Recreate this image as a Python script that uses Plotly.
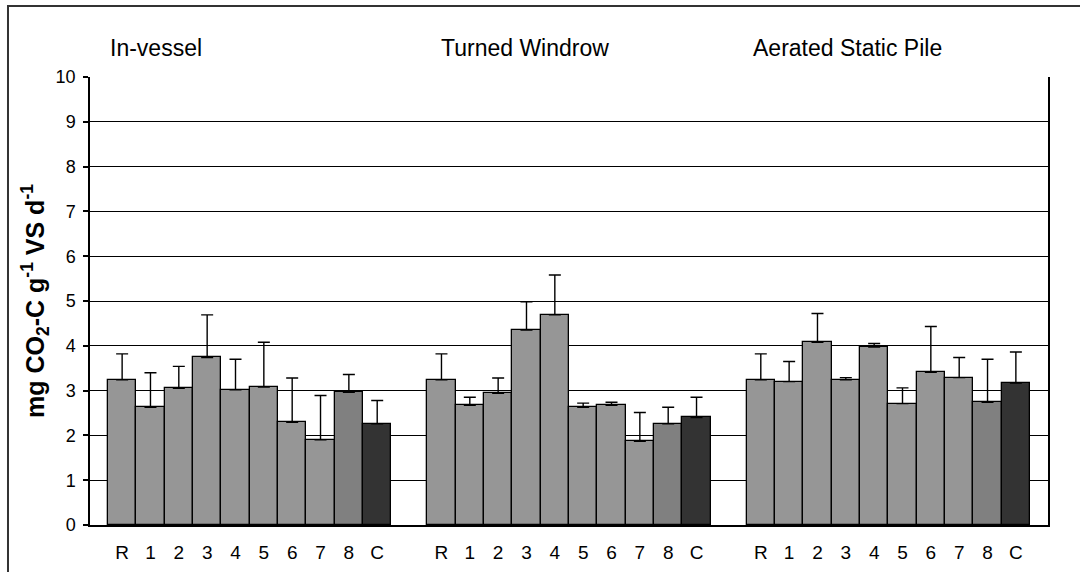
import plotly.graph_objects as go

# Composting systems and treatments
systems = ["In-vessel", "Turned Windrow", "Aerated Static Pile"]
treatments = ["R", "1", "2", "3", "4", "5", "6", "7", "8", "C"]

# Mean respiration rate (mg CO2-C g-1 VS d-1) for each treatment
in_vessel = [3.24, 2.63, 3.05, 3.74, 3.02, 3.08, 2.29, 1.90, 2.96, 2.26]
turned_windrow = [3.24, 2.67, 2.94, 4.35, 4.69, 2.63, 2.67, 1.87, 2.26, 2.40]
aerated_pile = [3.24, 3.20, 4.08, 3.24, 3.97, 2.71, 3.41, 3.29, 2.74, 3.17]

# Standard deviation (drawn upward only)
in_vessel_sd = [0.58, 0.77, 0.49, 0.95, 0.68, 1.00, 0.99, 0.99, 0.40, 0.52]
turned_windrow_sd = [0.58, 0.18, 0.34, 0.63, 0.89, 0.09, 0.07, 0.64, 0.37, 0.45]
aerated_pile_sd = [0.58, 0.45, 0.64, 0.05, 0.08, 0.35, 1.02, 0.45, 0.96, 0.69]

means = [in_vessel, turned_windrow, aerated_pile]
sds = [in_vessel_sd, turned_windrow_sd, aerated_pile_sd]

FONT = "Arial, 'Liberation Sans', sans-serif"
GAP = 0.1125                      # share of each system slot left empty
BAR_W = (1 - GAP) / len(treatments)

treatment_colors = {"8": "#808080", "C": "#333333"}

xs, ys, errs, cols, labels = [], [], [], [], []
for g, (vals, sd) in enumerate(zip(means, sds)):
    for i, t in enumerate(treatments):
        xs.append(g + (i - (len(treatments) - 1) / 2) * BAR_W)
        ys.append(vals[i])
        errs.append(sd[i])
        cols.append(treatment_colors.get(t, "#969696"))
        labels.append(t)

fig = go.Figure()
fig.add_trace(go.Bar(
    x=xs, y=ys, width=BAR_W,
    marker=dict(color=cols, line=dict(color="black", width=1.3)),
    error_y=dict(type="data", symmetric=False, array=errs,
                 arrayminus=[0] * len(errs), color="black",
                 thickness=1.4, width=6),
    showlegend=False, hoverinfo="x+y",
))

# System names above each group of bars
title_x = [-0.444, 0.594, 1.569]
for name, x in zip(systems, title_x):
    fig.add_annotation(x=x, y=1.0647, xref="x", yref="paper", text=name,
                       showarrow=False, xanchor="left", yanchor="middle",
                       font=dict(family=FONT, size=23, color="black"))

# Outer chart frame
fig.add_shape(type="rect", xref="paper", yref="paper",
              x0=-0.0856, x1=1.2, y0=-0.2, y1=1.1585,
              line=dict(color="#333333", width=2), fillcolor="rgba(0,0,0,0)",
              layer="below")

fig.update_layout(
    width=1080, height=572,
    margin=dict(l=90, r=32, t=77, b=46.5),
    paper_bgcolor="white", plot_bgcolor="white",
    font=dict(family=FONT, color="black"),
    bargap=0,
    xaxis=dict(
        range=[-0.5, 2.5], tickvals=xs, ticktext=labels, ticks="",
        showgrid=False, zeroline=False, showline=True,
        linecolor="black", linewidth=1.5,
        tickfont=dict(family=FONT, size=19, color="black"),
        ticklabelstandoff=9, fixedrange=True, automargin=False,
    ),
    xaxis2=dict(
        range=[-0.5, 2.5], overlaying="x", anchor="y", side="bottom",
        tickvals=[-0.5, 0.5, 1.5, 2.5], ticks="outside", ticklen=7,
        tickcolor="black", tickwidth=1.5, showticklabels=False,
        showgrid=False, zeroline=False, showline=False, automargin=False,
    ),
    yaxis=dict(
        range=[0, 10], dtick=1, tick0=0,
        showgrid=True, gridcolor="black", gridwidth=1,
        zeroline=False, showline=True, linecolor="black", linewidth=1.5,
        mirror=True,
        ticks="outside", ticklen=5, tickcolor="black", tickwidth=1.5,
        tickfont=dict(family=FONT, size=18, color="black"),
        ticklabelstandoff=4,
        title=dict(text="<b>mg CO<sub>2</sub>-C g<sup>-1</sup> VS d<sup>-1</sup></b>",
                   font=dict(family=FONT, size=25, color="black"), standoff=4),
        automargin=False,
    ),
)

fig.write_html("out.html")
